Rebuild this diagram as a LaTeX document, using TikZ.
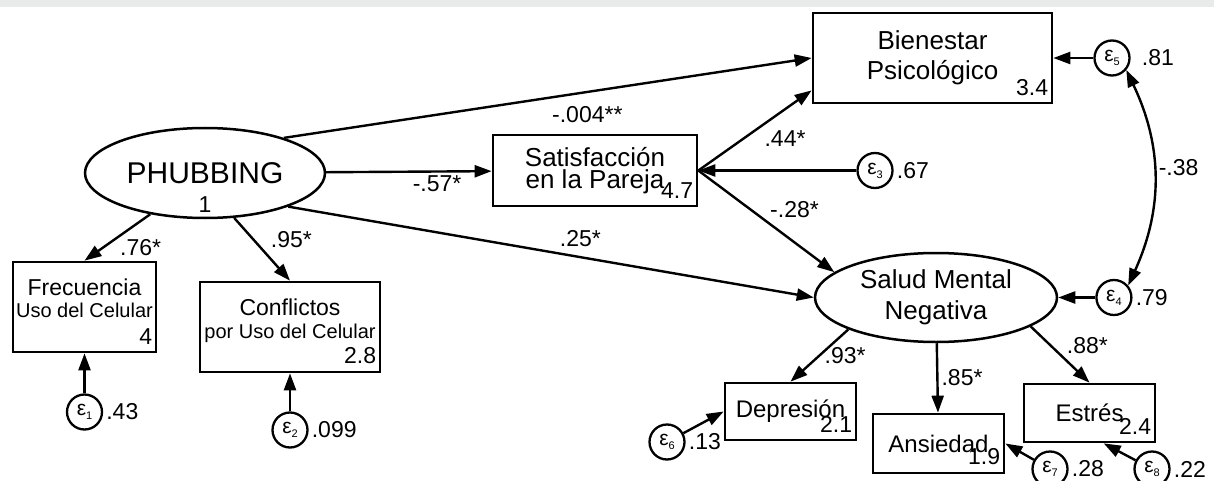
\documentclass[tikz,border=0pt]{standalone}
\usepackage{fontspec}
\setmainfont{Liberation Sans}
\usetikzlibrary{arrows.meta,positioning,shapes.geometric}
\definecolor{topbar}{HTML}{E9EBEA}
\newcommand\errsym[1]{ε\raisebox{-4pt}{\fontsize{11}{11}\selectfont#1}}

\begin{document}
\begin{tikzpicture}[
  x=1pt,y=-1pt,
  >={Stealth[length=17pt,width=12pt,inset=0pt]},
  latent/.style={draw,ellipse,line width=2.5pt,inner sep=0pt,align=center,
    minimum width=242pt,minimum height=89pt,font=\fontsize{26}{31}\selectfont},
  observed/.style={draw,line width=2.7pt,inner sep=0pt,align=center,
    font=\fontsize{24}{24}\selectfont},
  errterm/.style={draw,circle,line width=2.3pt,inner sep=0pt,minimum size=35pt,
    font=\fontsize{21}{21}\selectfont},
  effect/.style={line width=2.4pt,->},
  covar/.style={line width=2.4pt,<->},
  coef/.style={font=\fontsize{23}{23}\selectfont,inner sep=2pt},
  mean/.style={font=\fontsize{23}{23}\selectfont,anchor=south east,inner xsep=5pt,inner ysep=9pt},
  var/.style={font=\fontsize{23}{23}\selectfont,anchor=west,inner sep=3pt}
]
\useasboundingbox (0,0) rectangle (1214,481);
\fill[topbar] (0,0) rectangle (1214,7);

\node (phub) [latent,minimum width=240pt,minimum height=90pt,font=\fontsize{30}{30}\selectfont,
  label={[mean,anchor=south,inner ysep=7pt]south:1}] at (205,173) {PHUBBING};
\node (frec) [observed,minimum width=143pt,minimum height=90pt,text depth=18pt,
  font=\fontsize{23}{22}\selectfont,label={[mean]south east:4}] at (84.5,307)
  {Frecuencia\\{\fontsize{20}{22}\selectfont Uso del Celular}};
\node (conf) [observed,minimum width=180pt,minimum height=90pt,text depth=16pt,
  font=\fontsize{23}{23}\selectfont,label={[mean]south east:2.8}] at (290,327)
  {Conflictos\\{\fontsize{20}{23}\selectfont por Uso del Celular}};
\node (sat) [observed,minimum width=204pt,minimum height=71pt,
  font=\fontsize{26}{22}\selectfont,label={[mean]south east:4.7}] at (595,170.5)
  {Satisfacción\\en la Pareja};
\node (bien) [observed,minimum width=239pt,minimum height=90pt,
  font=\fontsize{26}{30}\selectfont,label={[mean,inner ysep=8pt]south east:3.4}] at (932.5,58)
  {Bienestar\\Psicológico};
\node (salud) [latent] at (936,297.5) {Salud Mental\\Negativa};
\node (dep) [observed,minimum width=131pt,minimum height=57pt,
  label={[mean]south east:2.1}] at (790.5,411.5) {Depresión};
\node (ans) [observed,minimum width=131pt,minimum height=59pt,
  label={[mean]south east:1.9}] at (938.5,443.5) {Ansiedad};
\node (est) [observed,minimum width=131pt,minimum height=58pt,
  label={[mean]south east:2.4}] at (1089.5,413) {Estrés};

\node (e1) [errterm,below=40pt of frec,label={[var]east:.43}] {\errsym{1}};
\node (e2) [errterm,below=38pt of conf,label={[var]east:.099}] {\errsym{2}};
\node (e3) [errterm,right=158pt of sat,label={[var]east:.67}] {\errsym{3}};
\node (e4) [errterm,right=37pt of salud,label={[var]east:.79}] {\errsym{4}};
\node (e5) [errterm,right=40pt of bien,label={[var,xshift=8pt]east:.81}] {\errsym{5}};
\node (e6) [errterm,label={[var]east:.13}] at (667,442) {\errsym{6}};
\node (e7) [errterm,label={[var]east:.28}] at (1050,469) {\errsym{7}};
\node (e8) [errterm,label={[var]east:.22}] at (1152,469) {\errsym{8}};

\draw[effect] (phub.24) -- node[coef,pos=.575,below=11pt] {-.004**} (bien.west);
\draw[effect] (phub) -- node[coef,pos=.67,below=1pt] {-.57*} (sat);
\draw[effect] (phub.-22) -- node[coef,pos=.556,above=7pt] {.25*} (salud.west);
\draw[effect] (phub.-143) -- node[coef,pos=.72,right=14pt] {.76*} (frec.north);
\draw[effect] (phub.-57) -- node[coef,pos=.35,right=14pt] {.95*} (conf.north);
\draw[effect] (sat.east) -- node[coef,pos=.55,below right=1pt] {.44*} (bien.-165);
\draw[effect] (sat.east) -- node[coef,pos=.5,above right=1pt] {-.28*} (salud.166);
\draw[effect] (salud.-160) -- node[coef,pos=.5,right=2pt] {.93*} (dep.north);
\draw[effect] (salud) -- node[coef,pos=.5,right=1pt] {.85*} (ans);
\draw[effect] (salud.-17) -- node[coef,pos=.55,above right=1pt] {.88*} (est.north);

\draw[effect] (e1) -- (frec);
\draw[effect] (e2) -- (conf);
\draw[effect] (e3) -- (sat.east);
\draw[effect] (e4) -- (salud);
\draw[effect] (e5) -- (bien);
\draw[effect] (e6) -- (dep.west);
\draw[effect] (e7) -- (ans.east);
\draw[effect] (e8) -- (est.-65);
\draw[covar] (e5.-40) to[bend left=25] node[coef,pos=.45,right=2pt] {-.38} (e4.40);

\end{tikzpicture}
\end{document}
